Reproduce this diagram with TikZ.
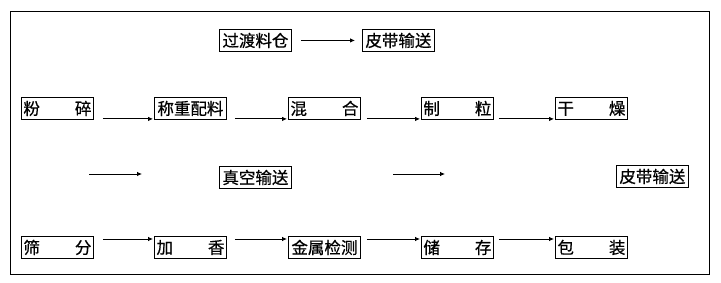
\documentclass[tikz,border=0pt]{standalone}
\usepackage{fontspec}
\newfontfamily\cjk[FakeBold=0.6]{Noto Sans CJK SC}
\usetikzlibrary{arrows.meta}
\begin{document}
\begin{tikzpicture}[x=1pt,y=-1pt,
  box/.style={draw,line width=0.9pt,minimum width=72pt,minimum height=22pt,inner sep=0pt,
    anchor=north west,font=\cjk\fontsize{16.5}{17}\selectfont},
  arr/.style={line width=0.8pt,-{Latex[length=5pt,width=4.5pt]}}]
\useasboundingbox (0,0) rectangle (721,283);
\draw[line width=0.9pt] (10,11) rectangle (709,274);
\newcommand{\two}[2]{\makebox[68pt]{#1\hfill #2}}
% top row
\node[box] (guodu) at (219,29) {过渡料仓};
\node[box] (pidai1) at (362,29) {皮带输送};
% row 2
\node[box] (fensui) at (21,97) {\two{粉}{碎}};
\node[box] (cheng) at (154,97) {称重配料};
\node[box] (hunhe) at (288,97) {\two{混}{合}};
\node[box] (zhili) at (421,97) {\two{制}{粒}};
\node[box] (ganzao) at (555,97) {\two{干}{燥}};
% row 3
\node[box] (zhenkong) at (219,166) {真空输送};
\node[box] (pidai2) at (616,165) {皮带输送};
% row 4
\node[box] (shaifen) at (21,236) {\two{筛}{分}};
\node[box] (jiaxiang) at (154,236) {\two{加}{香}};
\node[box] (jinshu) at (288,236) {金属检测};
\node[box] (chucun) at (421,236) {\two{储}{存}};
\node[box] (baozhuang) at (555,236) {\two{包}{装}};
% arrows
\draw[arr] ([xshift=9pt]guodu.east) -- ([xshift=-7pt]pidai1.west);
\draw[arr] ([shift={(9pt,1pt)}]fensui.south east) -- ([shift={(-1pt,1pt)}]cheng.south west);
\draw[arr] ([shift={(8pt,1pt)}]cheng.south east) -- ([shift={(-1pt,1pt)}]hunhe.south west);
\draw[arr] ([shift={(6pt,1pt)}]hunhe.south east) -- ([shift={(-1pt,1pt)}]zhili.south west);
\draw[arr] ([shift={(5pt,1pt)}]zhili.south east) -- ([shift={(-1pt,1pt)}]ganzao.south west);
\coordinate (a1s) at (89,174);
\coordinate (a1e) at (142,174);
\coordinate (a2s) at (393,174);
\coordinate (a2e) at (445,174);
\draw[arr] (a1s) -- (a1e);
\draw[arr] (a2s) -- (a2e);
\draw[arr] ([shift={(9pt,-3pt)}]shaifen.north east) -- ([shift={(-1pt,-3pt)}]jiaxiang.north west);
\draw[arr] ([shift={(8pt,-3pt)}]jiaxiang.north east) -- ([shift={(-1pt,-3pt)}]jinshu.north west);
\draw[arr] ([shift={(6pt,-3pt)}]jinshu.north east) -- ([shift={(-1pt,-3pt)}]chucun.north west);
\draw[arr] ([shift={(5pt,-3pt)}]chucun.north east) -- ([shift={(-1pt,-3pt)}]baozhuang.north west);
\end{tikzpicture}
\end{document}
